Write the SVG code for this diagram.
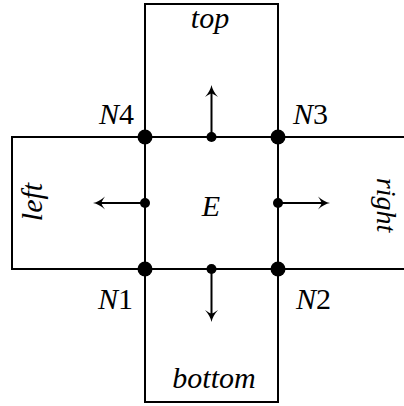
<svg xmlns="http://www.w3.org/2000/svg" width="404" height="406" viewBox="0 0 404 406">
<style>
.cell{fill:none;stroke:#000;stroke-width:2}
.arr{stroke:#000;stroke-width:2;fill:none;marker-end:url(#ah)}
</style>
<defs>
<marker id="ah" markerUnits="userSpaceOnUse" orient="auto" refX="0" refY="0" markerWidth="20" markerHeight="20" overflow="visible">
<path d="M7,0 Q1,1.2 -5,6.5 Q-1.5,1.5 -1.5,0 Q-1.5,-1.5 -5,-6.5 Q1,-1.2 7,0 Z" fill="#000"/>
</marker>
</defs>
<rect width="404" height="406" fill="#fff"/>
<g font-family="'Liberation Serif', serif" font-style="italic" font-size="30" fill="#000">
<g id="top">
<rect class="cell" x="145" y="4" width="133" height="133"/>
<text x="210" y="28" text-anchor="middle">top</text>
</g>
<g id="bottom">
<rect class="cell" x="145" y="269" width="133" height="133"/>
<text x="214" y="388" text-anchor="middle">bottom</text>
</g>
<g id="left">
<rect class="cell" x="12" y="137" width="133" height="132"/>
<text transform="translate(42,202) rotate(-90)" text-anchor="middle">left</text>
</g>
<g id="right">
<path class="cell" d="M278,137 H406 M278,269 H406"/>
<text transform="translate(377,205) rotate(90)" text-anchor="middle" font-size="28">right</text>
</g>
<g id="E">
<rect class="cell" x="145" y="137" width="133" height="132"/>
<text x="211" y="216" text-anchor="middle">E</text>
</g>
<g id="connectors">
<line class="arr" x1="211.5" y1="137" x2="211.5" y2="92"/>
<line class="arr" x1="211.5" y1="269" x2="211.5" y2="315"/>
<line class="arr" x1="145" y1="203" x2="100" y2="203"/>
<line class="arr" x1="278" y1="203" x2="323" y2="203"/>
<circle cx="211.5" cy="137" r="5"/>
<circle cx="211.5" cy="269" r="5"/>
<circle cx="145" cy="203" r="5"/>
<circle cx="278" cy="203" r="5"/>
</g>
<g id="N4">
<circle cx="145" cy="137" r="7.5"/>
<text x="134" y="124" text-anchor="end">N<tspan font-style="normal">4</tspan></text>
</g>
<g id="N3">
<circle cx="278" cy="137" r="7.5"/>
<text x="293" y="124">N<tspan font-style="normal">3</tspan></text>
</g>
<g id="N1">
<circle cx="145" cy="269" r="7.5"/>
<text x="133" y="309" text-anchor="end">N<tspan font-style="normal">1</tspan></text>
</g>
<g id="N2">
<circle cx="278" cy="269" r="7.5"/>
<text x="296" y="309">N<tspan font-style="normal">2</tspan></text>
</g>
</g>
</svg>
